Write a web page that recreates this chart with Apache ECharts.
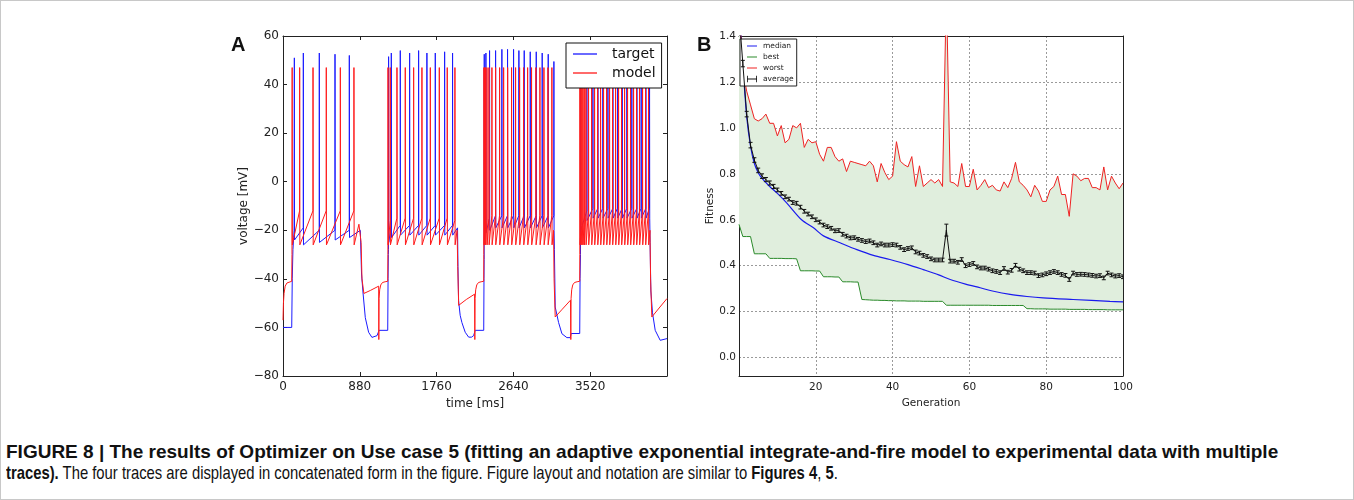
<!DOCTYPE html>
<html><head><meta charset="utf-8">
<script src="https://cdn.jsdelivr.net/npm/echarts@6/dist/echarts.min.js"></script>
<style>
html,body{margin:0;padding:0;background:#fff;}
#frame{position:absolute;left:0;top:0;width:1352px;height:498px;border:1px solid #c8c8c8;}
#chart{position:absolute;left:0;top:0;width:1354px;height:430px;}
.cap{position:absolute;left:6px;font-family:'Liberation Sans',Arial,sans-serif;font-size:19px;line-height:21px;color:#111;white-space:nowrap;transform-origin:0 50%;}
</style></head>
<body>
<div id="frame"></div>
<div id="chart"></div>
<div class="cap" style="top:441px"><b>FIGURE 8 | The results of Optimizer on Use case 5 (fitting an adaptive exponential integrate-and-fire model to experimental data with multiple</b></div>
<div class="cap" style="top:462px;transform:scaleX(0.78)"><b>traces).</b> The four traces are displayed in concatenated form in the figure. Figure layout and notation are similar to <b>Figures 4</b>, <b>5</b>.</div>
<script>
// ---------- Panel A : voltage traces (time ms, voltage mV) ----------
const timeTicks = [0, 880, 1760, 2640, 3520];
const voltTicks = [-80, -60, -40, -20, 0, 20, 40, 60];
// spike descriptors: [time, peak, level after spike, level before spike]
const target1Start = [[0,-60],[100,-60],[106,-40],[114,-28],[122,-23],[127,-20]];
const target1Spikes = [[130,51,-24,-20],[233,53,-26,-19],[416,53,-25,-20],[596,52.5,-24,-20],[760,52,-23,-20]];
const target1End = [[886,-20],[900,-38],[916,-45.4],[943,-56],[981,-62],[1019,-64.1],[1077,-63.4],[1097,-63],[1101,-61.2],[1200,-61.2],[1204,-40],[1207,-30]];
const target2Spikes = [[1210,51.5,-25,-28],[1241,53,-23,-18],[1344,54,-22,-18],[1451,53,-22,-18],[1554,54,-22,-18],[1649,53,-22,-18],[1745,53,-22,-18],[1852,53.5,-22,-18],[1943,53,-22,-18]];
const target2End = [[2000,-19],[2005,-35],[2012,-49],[2030,-55],[2050,-58],[2088,-62],[2127,-64],[2160,-64],[2184,-63.4],[2198,-63],[2202,-61.2],[2300,-61.2],[2303,-40]];
const target3Spikes = [[2306,52.5,-24,-32],[2325,53,-21,-17],[2367,54,-20,-15],[2436,54,-19,-14],[2508,54.5,-19,-14],[2573,54.5,-19,-14],[2642,54.5,-19,-14],[2703,54,-19,-14],[2764,54,-19,-14],[2833,53.5,-19,-14],[2902,53.5,-19,-14],[2970,53,-19,-14],[3039,52.5,-19,-14],[3104,49.5,-20,-14]];
const target3End = [[3110,-28],[3119,-51.6],[3158,-58],[3196,-62.6],[3253,-64.2],[3291,-64.2],[3298,-63.5],[3302,-62.5],[3400,-62.5],[3404,-40]];
const target4Spikes = [[3410,53,-20,-30],[3482,53,-16,-12],[3551,53,-15,-11],[3608,53,-15,-11],[3665,53,-15,-11],[3723,53,-15,-11],[3780,53,-15,-11],[3833,53,-15,-11],[3887,53,-15,-11],[3940,53,-15,-11],[3997,53,-15,-11],[4055,53,-15,-11],[4104,53,-15,-11],[4158,53,-15,-11],[4200,53,-15,-11]];
const target4End = [[4206,-25],[4215,-45],[4234,-54],[4265,-61.2],[4322,-65.3],[4400,-64.6]];

const model1Start = [[0,-57],[5,-50],[12,-46],[25,-43],[45,-41.7],[100,-41],[103,-30]];
const model1Spikes = [[105,47,-26,-30],[191,47,-26,-12],[344,47,-26,-12],[496,47,-26,-12],[657,47,-26,-12],[813,47,-26,-12]];
const model1End = [[870,-17.5],[886,-17],[895,-25],[905,-40],[927,-46],[1000,-44.8],[1096,-43],[1098,-65],[1101,-48],[1108,-44.5],[1120,-42.5],[1140,-41.5],[1170,-41.2],[1200,-41]];
const model2Spikes = [[1203,47,-26,-30],[1229,47,-26,-16],[1306,47,-26,-15],[1401,47,-26,-15],[1497,47,-26,-15],[1592,47,-26,-15],[1688,47,-26,-15],[1791,47,-26,-15],[1882,47,-26,-15],[1970,47,-26,-16]];
const model2End = [[1995,-20],[2002,-35],[2013,-50.9],[2100,-48.5],[2195,-46.3],[2198,-65],[2201,-48],[2208,-44.5],[2220,-42.5],[2240,-41.5],[2270,-41.2],[2300,-41]];
const model3Spikes = [[2302,47,-26,-30],[2310,47,-26,-20],[2321,47,-26,-18],[2337,47,-26,-16],[2360,47,-26,-15],[2394,47,-26,-14],[2436,47,-26,-14],[2482,47,-26,-14],[2528,47,-26,-14],[2574,47,-26,-14],[2619,47,-26,-14],[2665,47,-26,-14],[2711,47,-26,-14],[2757,47,-26,-14],[2803,47,-26,-14],[2848,47,-26,-14],[2898,47,-26,-14],[2944,47,-26,-14],[2990,47,-26,-14],[3036,47,-26,-14],[3081,47,-26,-14]];
const model3End = [[3100,-20],[3106,-40],[3119,-55.7],[3200,-52.5],[3294,-48.8],[3298,-65],[3301,-48],[3308,-44.5],[3320,-42.5],[3340,-41.5],[3370,-41.2],[3400,-41]];
const model4Spikes = [[3402,47,-26,-30],[3414,47,-26,-20],[3425,47,-26,-18],[3437,47,-26,-16],[3452,47,-26,-14],[3471,47,-26,-13],[3501,47,-26,-12],[3536,47,-26,-12],[3570,47,-26,-12],[3605,47,-26,-12],[3639,47,-26,-12],[3673,47,-26,-12],[3708,47,-26,-12],[3742,47,-26,-12],[3776,47,-26,-12],[3811,47,-26,-12],[3845,47,-26,-12],[3879,47,-26,-12],[3914,47,-26,-12],[3948,47,-26,-12],[3982,47,-26,-12],[4017,47,-26,-12],[4051,47,-26,-12],[4085,47,-26,-12],[4120,47,-26,-12],[4154,47,-26,-12],[4188,47,-26,-12]];
const model4End = [[4205,-20],[4212,-40],[4226,-55.7],[4310,-52],[4400,-48.1]];

// ---------- Panel B : fitness per generation (index = generation 0..100) ----------
const genTicks = [20, 40, 60, 80, 100];
const fitTicks = [0, 0.2, 0.4, 0.6, 0.8, 1.0, 1.2, 1.4];
const worst = [1.55,1.25,1.16,1.10,1.04,1.03,1.04,1.06,1.02,1.02,
0.965,1.01,0.935,0.95,1.01,1.00,1.02,0.915,0.95,0.935,
0.94,0.885,0.855,0.915,0.915,0.875,0.855,0.865,0.81,0.855,
0.85,0.845,0.84,0.835,0.855,0.835,0.765,0.845,0.805,0.775,
0.79,0.94,0.855,0.84,0.83,0.875,0.745,0.835,0.745,0.76,
0.775,0.76,0.775,0.745,1.60,0.765,0.76,0.745,0.845,0.745,
0.745,0.82,0.73,0.75,0.775,0.74,0.75,0.73,0.725,0.765,
0.74,0.78,0.85,0.765,0.75,0.73,0.70,0.75,0.725,0.68,
0.68,0.73,0.745,0.79,0.71,0.71,0.615,0.80,0.79,0.77,
0.78,0.78,0.74,0.74,0.73,0.83,0.73,0.79,0.76,0.735,
0.76];
const best = [0.58,0.527,0.527,0.527,0.452,0.452,0.452,0.452,0.432,0.432,
0.432,0.432,0.431,0.431,0.431,0.430,0.378,0.378,0.378,0.378,
0.377,0.377,0.352,0.352,0.352,0.351,0.351,0.330,0.330,0.330,
0.329,0.329,0.253,0.252,0.251,0.250,0.250,0.249,0.249,0.248,
0.248,0.247,0.247,0.247,0.246,0.246,0.246,0.246,0.245,0.245,
0.245,0.245,0.245,0.245,0.228,0.228,0.228,0.228,0.228,0.228,
0.228,0.228,0.228,0.228,0.228,0.228,0.227,0.227,0.227,0.227,
0.227,0.227,0.227,0.227,0.227,0.213,0.213,0.212,0.212,0.212,
0.212,0.211,0.211,0.211,0.211,0.211,0.210,0.210,0.210,0.210,
0.210,0.209,0.209,0.209,0.209,0.209,0.208,0.208,0.208,0.208,
0.208];
const average = [1.50,1.28,1.06,0.925,0.86,0.815,0.79,0.775,0.76,0.745,
0.73,0.715,0.70,0.69,0.675,0.672,0.655,0.637,0.625,0.613,
0.60,0.59,0.577,0.57,0.563,0.552,0.553,0.537,0.529,0.521,
0.522,0.515,0.51,0.505,0.508,0.50,0.49,0.495,0.49,0.49,
0.492,0.49,0.48,0.47,0.475,0.478,0.46,0.455,0.445,0.44,
0.43,0.425,0.425,0.425,0.555,0.42,0.42,0.415,0.427,0.40,
0.405,0.41,0.395,0.39,0.39,0.385,0.378,0.375,0.37,0.388,
0.372,0.38,0.402,0.385,0.378,0.37,0.37,0.368,0.357,0.36,
0.365,0.37,0.375,0.37,0.362,0.358,0.34,0.368,0.362,0.363,
0.362,0.36,0.358,0.355,0.357,0.347,0.368,0.36,0.355,0.357,
0.352];
const averageErr = [0.02,0.014,0.012,0.012,0.01,0.01,0.01,0.009,0.009,0.009,
0.008,0.008,0.008,0.008,0.008,0.008,0.008,0.008,0.008,0.008,
0.008,0.008,0.008,0.008,0.008,0.008,0.008,0.008,0.008,0.008,
0.008,0.008,0.008,0.008,0.008,0.008,0.008,0.008,0.008,0.008,
0.008,0.008,0.008,0.008,0.008,0.008,0.008,0.008,0.008,0.008,
0.008,0.008,0.008,0.008,0.026,0.008,0.008,0.008,0.008,0.008,
0.008,0.008,0.008,0.008,0.008,0.008,0.008,0.008,0.008,0.008,
0.008,0.008,0.008,0.008,0.008,0.008,0.008,0.008,0.008,0.008,
0.008,0.008,0.008,0.008,0.008,0.008,0.008,0.008,0.008,0.008,
0.008,0.008,0.008,0.008,0.008,0.008,0.008,0.008,0.008,0.008,
0.008];
// median read at a few generations: [generation, fitness]
const median = [[0,1.55],[1,1.28],[2,1.05],[3,0.92],[4,0.845],[5,0.805],[6,0.78],[8,0.745],[10,0.715],[12.4,0.674],[16.3,0.60],[19.4,0.565],[22,0.53],[26.3,0.50],[30.7,0.47],[35,0.445],[39.3,0.427],[44,0.405],[48,0.383],[52,0.36],[55,0.34],[59,0.32],[62.8,0.304],[66,0.29],[70.6,0.275],[75,0.266],[79.2,0.26],[87,0.253],[96.6,0.245],[100,0.243]];

// ---------- build ----------
function trace(parts){
  const pts=[];
  parts.forEach(p=>{
    if(p.spikes){ p.spikes.forEach(s=>{ pts.push([s[0]-1,s[3]],[s[0],s[1]],[s[0]+2,s[2]]); }); }
    else pts.push(...p);
  });
  return pts;
}
const targetData = trace([target1Start,{spikes:target1Spikes},target1End,{spikes:target2Spikes},target2End,{spikes:target3Spikes},target3End,{spikes:target4Spikes},target4End]);
const modelData = trace([model1Start,{spikes:model1Spikes},model1End,{spikes:model2Spikes},model2End,{spikes:model3Spikes},model3End,{spikes:model4Spikes},model4End]);
const withGen = arr => arr.map((v,i)=>[i,v]);
const minus = v => (v<0 ? '\u2212'+Math.abs(v) : String(v));

const FA = 'DejaVu Sans';
const axisA = {onZero:false,lineStyle:{color:'#222',width:1}};
const tickA = {inside:true,length:4,lineStyle:{color:'#222',width:1}};

const chart = echarts.init(document.getElementById('chart'));
chart.setOption({
  animation:false,
  backgroundColor:'transparent',
  grid:[
    {left:283,top:36,width:384,height:340},
    {left:739,top:36,width:384,height:340}
  ],
  xAxis:[
    {gridIndex:0,type:'value',min:0,max:4400,interval:880,position:'bottom',
     axisLine:axisA,axisTick:Object.assign({customValues:timeTicks},tickA),
     axisLabel:{customValues:timeTicks,fontFamily:FA,fontSize:12,color:'#222',margin:5,formatter:v=>String(v)},
     splitLine:{show:false},name:'time [ms]',nameLocation:'middle',nameGap:20,
     nameTextStyle:{fontFamily:FA,fontSize:12,color:'#222'}},
    {gridIndex:0,type:'value',min:0,max:4400,interval:880,position:'top',
     axisLine:axisA,axisTick:Object.assign({customValues:timeTicks},tickA),axisLabel:{show:false},splitLine:{show:false}},
    {gridIndex:1,type:'value',min:0,max:100,interval:20,position:'bottom',
     axisLine:axisA,axisTick:{show:false},
     axisLabel:{customValues:genTicks,fontFamily:FA,fontSize:10.5,color:'#222',margin:6,formatter:v=>String(v)},
     splitLine:{show:true,lineStyle:{color:'#9a9a9a',width:1,type:[2,2]}},
     name:'Generation',nameLocation:'middle',nameGap:14,nameTextStyle:{fontFamily:FA,fontSize:10.5,color:'#222'}},
    {gridIndex:1,type:'value',min:0,max:100,interval:20,position:'top',
     axisLine:axisA,axisTick:{show:false},axisLabel:{show:false},splitLine:{show:false}}
  ],
  yAxis:[
    {gridIndex:0,type:'value',min:-80,max:60,interval:20,position:'left',
     axisLine:axisA,axisTick:tickA,
     axisLabel:{fontFamily:FA,fontSize:12,color:'#222',margin:4,formatter:minus},
     splitLine:{show:false},name:'voltage [mV]',nameLocation:'middle',nameGap:29,
     nameTextStyle:{fontFamily:FA,fontSize:12,color:'#222'}},
    {gridIndex:0,type:'value',min:-80,max:60,interval:20,position:'right',
     axisLine:axisA,axisTick:tickA,axisLabel:{show:false},splitLine:{show:false}},
    {gridIndex:1,type:'value',min:-0.08,max:1.4,splitNumber:7,position:'left',
     axisLine:axisA,axisTick:{show:false},
     axisLabel:{customValues:fitTicks,fontFamily:FA,fontSize:10.5,color:'#222',margin:3,formatter:v=>v.toFixed(1)},
     splitLine:{show:true,lineStyle:{color:'#9a9a9a',width:1,type:[2,2]}},
     name:'Fitness',nameLocation:'middle',nameGap:21,nameTextStyle:{fontFamily:FA,fontSize:10.5,color:'#222'}},
    {gridIndex:1,type:'value',min:-0.08,max:1.4,position:'right',
     axisLine:axisA,axisTick:{show:false},axisLabel:{show:false},splitLine:{show:false}}
  ],
  legend:[
    {orient:'vertical',left:566,top:43,itemWidth:24,itemHeight:14,itemGap:5,padding:[4,6,8,7],
     borderColor:'#111',borderWidth:1,backgroundColor:'#fff',selectedMode:false,
     textStyle:{fontFamily:FA,fontSize:14,color:'#111',padding:[0,0,0,10]},
     data:[{name:'target',icon:'path://M0,0h24v1.3h-24z'},{name:'model',icon:'path://M0,0h24v1.3h-24z'}]},
    {orient:'vertical',left:740,top:39,itemWidth:10,itemHeight:8,itemGap:3,padding:[3,3,3,7],
     borderColor:'#222',borderWidth:1,backgroundColor:'#fff',selectedMode:false,
     textStyle:{fontFamily:FA,fontSize:7.5,color:'#222',padding:[0,0,0,1]},
     data:[{name:'median',icon:'path://M0,0h10v1h-10z'},{name:'best',icon:'path://M0,0h10v1h-10z'},
           {name:'worst',icon:'path://M0,0h10v1h-10z'},{name:'average',icon:'path://M0,0h1v8h-1z M0,3.5h12v1h-12z M11,0h1v8h-1z'}]}
  ],
  graphic:[
    {type:'text',left:231,top:35,style:{text:'A',font:'bold 20px "Liberation Sans"',fill:'#111'}},
    {type:'text',left:697,top:35,style:{text:'B',font:'bold 20px "Liberation Sans"',fill:'#111'}}
  ],
  series:[
    {name:'target',type:'line',xAxisIndex:0,yAxisIndex:0,data:targetData,symbol:'none',color:'#1a1aff',
     lineStyle:{color:'#1a1aff',width:1}},
    {name:'model',type:'line',xAxisIndex:0,yAxisIndex:0,data:modelData,symbol:'none',color:'#ff1a1a',
     lineStyle:{color:'#ff1a1a',width:1}},
    {name:'band',type:'custom',xAxisIndex:2,yAxisIndex:2,clip:true,silent:true,z:1,data:[[50,0.5]],
     renderItem:(params,api)=>{
       const pts=[];
       for(let i=0;i<worst.length;i++) pts.push(api.coord([i,worst[i]]));
       for(let i=best.length-1;i>=0;i--) pts.push(api.coord([i,best[i]]));
       return {type:'polygon',shape:{points:pts},style:{fill:'#e0eedd'}};
     }},
    {name:'best',type:'line',xAxisIndex:2,yAxisIndex:2,data:withGen(best),symbol:'none',color:'#2a8a2a',
     lineStyle:{color:'#2a8a2a',width:1},z:3},
    {name:'median',type:'line',xAxisIndex:2,yAxisIndex:2,data:median,symbol:'none',smooth:0.3,color:'#1a1aee',
     lineStyle:{color:'#1a1aee',width:1.2},z:3},
    {name:'worst',type:'line',xAxisIndex:2,yAxisIndex:2,data:withGen(worst),symbol:'none',color:'#ee2222',
     lineStyle:{color:'#ee2222',width:1},z:3},
    {name:'average',type:'line',xAxisIndex:2,yAxisIndex:2,data:withGen(average),symbol:'none',color:'#111',
     lineStyle:{color:'#111',width:1},z:4},
    {name:'average',type:'custom',xAxisIndex:2,yAxisIndex:2,clip:true,z:5,
     data:average.map((v,i)=>[i,v,averageErr[i]]),
     renderItem:(params,api)=>{
       const x=api.value(0),y=api.value(1),e=api.value(2);
       const lo=api.coord([x,y-e]),hi=api.coord([x,y+e]);
       const st={stroke:'#111',lineWidth:1};
       return {type:'group',children:[
         {type:'line',shape:{x1:lo[0],y1:lo[1],x2:hi[0],y2:hi[1]},style:st},
         {type:'line',shape:{x1:lo[0]-2,y1:lo[1],x2:lo[0]+2,y2:lo[1]},style:st},
         {type:'line',shape:{x1:hi[0]-2,y1:hi[1],x2:hi[0]+2,y2:hi[1]},style:st}]};
     }}
  ]
});
</script>
</body></html>
